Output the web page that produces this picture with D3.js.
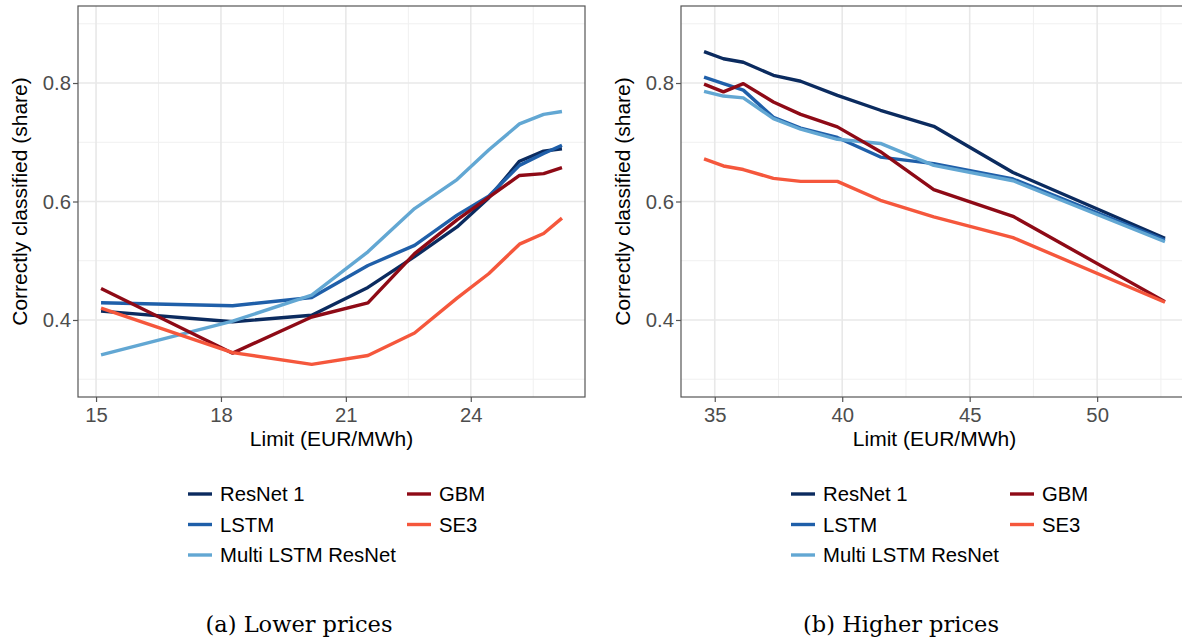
<!DOCTYPE html>
<html>
<head>
<meta charset="utf-8">
<script src="https://cdn.jsdelivr.net/npm/d3@7"></script>
<style>
    body { margin: 0; background: #fff; }
    svg { display: block; font-family: "Liberation Sans", Arial, sans-serif; }
</style>
</head>
<body>
<div class="forSvg"></div>
<script>
// -DATA-
// limits (EUR/MWh) for the two panels
const lowLimits = [15.12, 18.28, 20.18, 21.53, 22.65, 23.67, 24.43, 25.17, 25.75, 26.19]
const highLimits = [34.58, 35.34, 36.12, 37.30, 38.37, 39.81, 41.50, 43.59, 46.70, 52.66]

// model names, legend order
const models = ["ResNet 1", "LSTM", "Multi LSTM ResNet", "GBM", "SE3"]

// share correctly classified - lower prices
const lowResNet = [0.415, 0.397, 0.408, 0.455, 0.507, 0.557, 0.606, 0.668, 0.685, 0.689]
const lowLSTM = [0.429, 0.424, 0.438, 0.492, 0.526, 0.577, 0.609, 0.661, 0.681, 0.695]
const lowMulti = [0.341, 0.398, 0.442, 0.515, 0.588, 0.637, 0.687, 0.731, 0.747, 0.752]
const lowGBM = [0.453, 0.344, 0.405, 0.429, 0.512, 0.569, 0.607, 0.644, 0.647, 0.657]
const lowSE3 = [0.420, 0.345, 0.325, 0.340, 0.378, 0.437, 0.478, 0.528, 0.546, 0.572]

// share correctly classified - higher prices
const highResNet = [0.853, 0.841, 0.835, 0.813, 0.803, 0.779, 0.754, 0.727, 0.649, 0.538]
const highLSTM = [0.810, 0.799, 0.788, 0.742, 0.724, 0.708, 0.675, 0.664, 0.638, 0.535]
const highMulti = [0.786, 0.778, 0.775, 0.740, 0.722, 0.705, 0.698, 0.661, 0.635, 0.532]
const highGBM = [0.798, 0.785, 0.799, 0.768, 0.747, 0.726, 0.684, 0.620, 0.575, 0.431]
const highSE3 = [0.672, 0.660, 0.654, 0.639, 0.634, 0.634, 0.602, 0.574, 0.539, 0.430]

// tick labels
const lowTicks = [15, 18, 21, 24]
const highTicks = [35, 40, 45, 50]
const yTicks = [0.4, 0.6, 0.8]
const yLimits = [0.3, 0.9]

// colors
const colorArr = ["#0b2b5f", "#1f5fa9", "#62a7d3", "#8e0a16", "#f5573c"]
const color = d3.scaleOrdinal().domain(models).range(colorArr)

// -CREATE VARIABLES-
const svg_w = 1182
const svg_h = 643
const panelTop = 6
const panelBottom = 397
const panelW = 507

const svg = d3.select(".forSvg")
    .append("svg")
    .attr("width", svg_w)
    .attr("height", svg_h)

svg.append("rect")
    .attr("width", svg_w)
    .attr("height", svg_h)
    .attr("fill", "#fff")

// ggplot style 5% expansion
function expand(ext) {
    const pad = (ext[1] - ext[0]) * 0.05
    return [ext[0] - pad, ext[1] + pad]
}

const y = d3.scaleLinear()
    .domain(expand(yLimits))
    .range([panelBottom, panelTop])

// -PANEL-
function drawPanel(opts) {
    const x = d3.scaleLinear()
        .domain(expand(d3.extent(opts.limits)))
        .range([opts.left, opts.left + panelW])

    const g = svg.append("g")

    // minor grid
    const xt = opts.ticks
    const step = xt[1] - xt[0]
    const xMinor = xt.map(t => t + step / 2)
    const yMinor = [0.3, 0.5, 0.7, 0.9]

    g.selectAll(".xminor")
        .data(xMinor)
        .enter()
        .append("line")
        .attr("x1", d => x(d)).attr("x2", d => x(d))
        .attr("y1", panelTop).attr("y2", panelBottom)
        .attr("stroke", "#f0f0f0").attr("stroke-width", 1)

    g.selectAll(".yminor")
        .data(yMinor)
        .enter()
        .append("line")
        .attr("x1", opts.left).attr("x2", opts.left + panelW)
        .attr("y1", d => y(d)).attr("y2", d => y(d))
        .attr("stroke", "#f0f0f0").attr("stroke-width", 1)

    // major grid
    g.selectAll(".xmajor")
        .data(xt)
        .enter()
        .append("line")
        .attr("x1", d => x(d)).attr("x2", d => x(d))
        .attr("y1", panelTop).attr("y2", panelBottom)
        .attr("stroke", "#e8e8e8").attr("stroke-width", 1.6)

    g.selectAll(".ymajor")
        .data(yTicks)
        .enter()
        .append("line")
        .attr("x1", opts.left).attr("x2", opts.left + panelW)
        .attr("y1", d => y(d)).attr("y2", d => y(d))
        .attr("stroke", "#e8e8e8").attr("stroke-width", 1.6)

    // lines
    const line = d3.line()
        .x((d, i) => x(opts.limits[i]))
        .y(d => y(d))

    g.selectAll(".series")
        .data(opts.series)
        .enter()
        .append("path")
        .attr("d", d => line(d.values))
        .attr("fill", "none")
        .attr("stroke", d => color(d.name))
        .attr("stroke-width", 3.4)
        .attr("stroke-linejoin", "round")

    // border
    g.append("rect")
        .attr("x", opts.left)
        .attr("y", panelTop)
        .attr("width", panelW)
        .attr("height", panelBottom - panelTop)
        .attr("fill", "none")
        .attr("stroke", "#555")
        .attr("stroke-width", 1.2)

    // axes
    const xAxis = d3.axisBottom(x).tickValues(xt).tickSize(5).tickPadding(6)
    const yAxis = d3.axisLeft(y).tickValues(yTicks).tickSize(5).tickPadding(2).tickFormat(d3.format(".1f"))

    const gx = g.append("g")
        .attr("transform", "translate(0," + panelBottom + ")")
        .call(xAxis)
    const gy = g.append("g")
        .attr("transform", "translate(" + opts.left + ",0)")
        .call(yAxis)

    ;[gx, gy].forEach(a => {
        a.select(".domain").remove()
        a.selectAll("line").attr("stroke", "#555").attr("stroke-width", 1.2)
        a.selectAll("text")
            .attr("fill", "#4d4d4d")
            .style("font-size", "20.3px")
            .style("font-family", "Liberation Sans, Arial, sans-serif")
    })

    // axis titles
    g.append("text")
        .attr("x", opts.left + panelW / 2)
        .attr("y", 446)
        .attr("text-anchor", "middle")
        .style("font-size", "21px")
        .text("Limit (EUR/MWh)")

    g.append("text")
        .attr("transform", "translate(" + (opts.left - 58) + "," + ((panelTop + panelBottom) / 2) + ") rotate(-90)")
        .attr("text-anchor", "middle")
        .attr("dy", "0.35em")
        .style("font-size", "21px")
        .text("Correctly classified (share)")

    // legend - 3 rows, filled by column
    const legend = g.append("g").attr("id", "legend")
    const items = legend.selectAll("g")
        .data(models)
        .enter()
        .append("g")
        .attr("transform", (d, i) => "translate(" + (opts.legendX + Math.floor(i / 3) * 219) + "," + (494 + (i % 3) * 30.5) + ")")

    items.append("line")
        .attr("x1", 0).attr("x2", 24)
        .attr("stroke", d => color(d))
        .attr("stroke-width", 3.4)

    items.append("text")
        .attr("x", 32)
        .attr("dy", "0.36em")
        .style("font-size", "20.3px")
        .attr("fill", "#000")
        .text(d => d)

    // caption
    svg.append("text")
        .attr("x", opts.captionX)
        .attr("y", 632)
        .attr("text-anchor", "middle")
        .style("font-family", "DejaVu Serif, serif")
        .style("font-size", "22.5px")
        .text(opts.caption)
}

drawPanel({
    left: 78,
    limits: lowLimits,
    ticks: lowTicks,
    series: [
        { name: "ResNet 1", values: lowResNet },
        { name: "LSTM", values: lowLSTM },
        { name: "Multi LSTM ResNet", values: lowMulti },
        { name: "GBM", values: lowGBM },
        { name: "SE3", values: lowSE3 }
    ],
    legendX: 188,
    captionX: 299,
    caption: "(a) Lower prices"
})

drawPanel({
    left: 681,
    limits: highLimits,
    ticks: highTicks,
    series: [
        { name: "ResNet 1", values: highResNet },
        { name: "LSTM", values: highLSTM },
        { name: "Multi LSTM ResNet", values: highMulti },
        { name: "GBM", values: highGBM },
        { name: "SE3", values: highSE3 }
    ],
    legendX: 791,
    captionX: 901,
    caption: "(b) Higher prices"
})
</script>
</body>
</html>
